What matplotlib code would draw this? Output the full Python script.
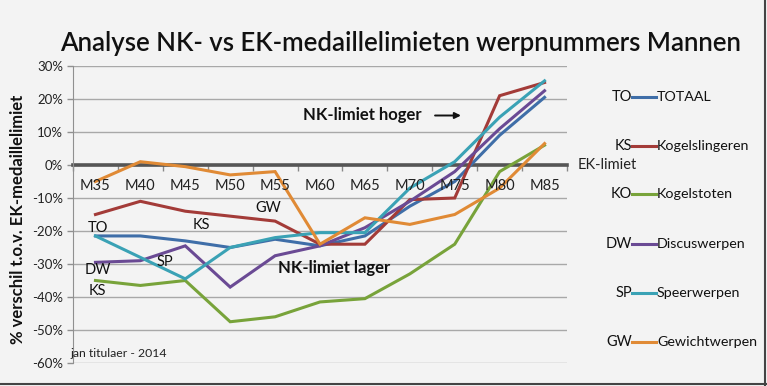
import matplotlib
matplotlib.use("Agg")
import matplotlib.pyplot as plt
from matplotlib.lines import Line2D
import numpy as np

categories = ["M35", "M40", "M45", "M50", "M55", "M60", "M65", "M70", "M75", "M80", "M85"]
TO = [-21.5, -21.5, -23, -25, -22.5, -24.5, -21.5, -12.5, -5, 9, 20.5]
KS = [-15, -11, -14, -15.5, -17, -24, -24, -10.5, -10, 21, 25]
KO = [-35, -36.5, -35, -47.5, -46, -41.5, -40.5, -33, -24, -2, 6]
DW = [-29.5, -29, -24.5, -37, -27.5, -24.5, -19, -11, -2, 11, 22.5]
SP = [-21.5, -28, -34.5, -25, -22, -20.5, -20.5, -7, 1, 14.5, 25.5]
GW = [-5, 1, -0.5, -3, -2, -24, -16, -18, -15, -7, 6.5]

series_codes = ["TO", "KS", "KO", "DW", "SP", "GW"]
series_names = ["TOTAAL", "Kogelslingeren", "Kogelstoten", "Discuswerpen", "Speerwerpen", "Gewichtwerpen"]
series_values = [TO, KS, KO, DW, SP, GW]
colors = ["#3f6ea8", "#a33b38", "#78a33a", "#6a4a94", "#3aa2b5", "#e08a35"]
yticks = [30, 20, 10, 0, -10, -20, -30, -40, -50, -60]

plt.rcParams['font.family'] = ['Lato', 'DejaVu Sans']
bg = "#f3f3f3"
fig = plt.figure(figsize=(7.67, 3.86), dpi=100, facecolor=bg)
ax = fig.add_axes([73/767, 1-363/386, (567-73)/767, (363-66)/386])
ax.set_facecolor(bg)

x = np.arange(len(categories))
for vals, c in zip(series_values, colors):
    ax.plot(x, vals, color=c, lw=2.2, solid_joinstyle='miter', zorder=3)

ax.set_xlim(-0.5, len(categories) - 0.5)
ax.set_ylim(-60, 30)
ax.set_yticks(yticks)
ax.set_yticklabels([f"{v}%" for v in yticks], fontsize=9.5, color="#222222")
ax.yaxis.grid(True, color="#a8a8a8", lw=1)
ax.set_axisbelow(True)
for s in ["top", "right"]:
    ax.spines[s].set_visible(False)
ax.spines["left"].set_color("#909090")
ax.spines["bottom"].set_position(("data", 0))
ax.spines["bottom"].set_color("#555555")
ax.spines["bottom"].set_linewidth(2.6)
ax.spines["bottom"].set_zorder(2)
ax.set_xticks(np.arange(-0.5, len(categories) + 0.5, 1))
ax.set_xticklabels([])
ax.tick_params(axis="x", length=4, color="#888888", width=1)
ax.tick_params(axis="y", length=4, color="#909090", width=1, pad=3)

for i, cat in enumerate(categories):
    ax.text(i, -6.3, cat, ha="center", va="center", fontsize=10.5, color="#222222")

# in-plot labels
lab = dict(fontsize=10.5, ha="center", va="center", color="#111111")
ax.text(0.05, -19.0, "TO", **lab)
ax.text(2.35, -18.3, "KS", **lab)
ax.text(3.85, -13.0, "GW", **lab)
ax.text(0.05, -31.8, "DW", **lab)
ax.text(1.55, -29.4, "SP", **lab)
ax.text(0.05, -38.3, "KS", **lab)
ax.text(4.63, 15.0, "NK-limiet hoger", fontsize=12, fontweight="bold", ha="left", va="center", color="#111111")
ax.annotate("", xy=(8.2, 15.0), xytext=(7.5, 15.0),
            arrowprops=dict(arrowstyle="-|>", color="#111111", lw=1.4, mutation_scale=9))
ax.text(4.07, -31.3, "NK-limiet lager", fontsize=12, fontweight="bold", ha="left", va="center", color="#111111")
ax.text(-0.55, -57.0, "jan titulaer - 2014", fontsize=8.8, ha="left", va="center", color="#222222")

fig.text(578/767, 1-165/386, "EK-limiet", fontsize=10.5, ha="left", va="center", color="#222222")

# legend
leg_y = [97, 145.5, 194, 244, 293, 342]
for code, name, c, yy in zip(series_codes, series_names, colors, leg_y):
    fy = 1 - yy/386
    fig.text(632/767, fy, code, fontsize=10.5, ha="right", va="center", color="#111111")
    fig.add_artist(Line2D([632/767, 656/767], [fy, fy], color=c, lw=2.2))
    fig.text(657/767, fy, name, fontsize=10.3, ha="left", va="center", color="#111111")

fig.text(400/767, 1-43/386, "Analyse NK- vs EK-medaillelimieten werpnummers Mannen",
         fontsize=18.5, fontweight="semibold", ha="center", va="center", color="#111111")
ax.set_ylabel("% verschil t.o.v. EK-medaillelimiet", fontsize=12, fontweight="bold", color="#111111",
              va="center")
ax.yaxis.set_label_coords(-(73-18)/494, (363-219)/297)

# frame shadow lines at right and bottom
fig.add_artist(Line2D([765/767, 765/767], [0, 1], color="#444444", lw=1.5))
fig.add_artist(Line2D([0, 1], [1-384/386, 1-384/386], color="#444444", lw=1.5))

fig.savefig("out.png", dpi=100, facecolor=bg)
